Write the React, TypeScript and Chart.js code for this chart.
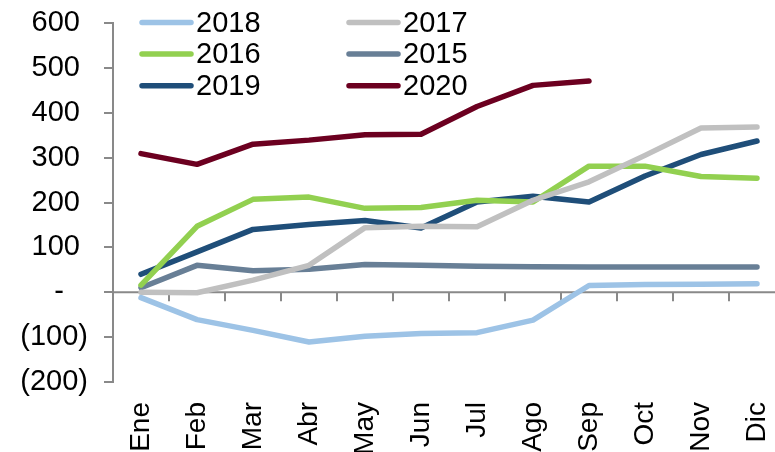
import React, { useEffect, useRef } from "react";
import { Chart, registerables } from "chart.js";

Chart.register(...registerables);

const categories = ["Ene", "Feb", "Mar", "Abr", "May", "Jun", "Jul", "Ago", "Sep", "Oct", "Nov", "Dic"];

const s2018 = [-12, -61, -85, -111, -98, -92, -90, -62, 15, 17, 18, 19];
const s2017 = [0, -1, 27, 60, 144, 147, 146, 205, 246, 305, 366, 368];
const s2016 = [16, 147, 207, 212, 187, 189, 205, 201, 281, 281, 258, 254];
const s2015 = [10, 60, 48, 51, 62, 60, 58, 57, 56, 56, 56, 56];
const s2019 = [40, 90, 140, 151, 160, 143, 201, 214, 201, 259, 307, 337];
const s2020 = [309, 285, 330, 339, 351, 352, 414, 461, 471];

const yTicks = [-200, -100, 0, 100, 200, 300, 400, 500, 600];

const FONT = "'Liberation Sans', Arial, sans-serif";
const AXIS = "#898989";

const fmt = (v: number) => {
  if (v > 0) return `${v}\u00A0`;
  if (v < 0) return `(${-v})`;
  return "-\u00A0\u00A0\u00A0";
};

const zeroAxisPlugin = {
  id: "zeroAxis",
  beforeDatasetsDraw(chart: any) {
    const { ctx, chartArea, scales } = chart;
    const x = scales.x;
    const y = scales.y;
    const y0 = y.getPixelForValue(0);
    ctx.save();
    ctx.strokeStyle = AXIS;
    ctx.lineWidth = 2;
    ctx.beginPath();
    ctx.moveTo(chartArea.left, y0);
    ctx.lineTo(chartArea.right, y0);
    const n = categories.length;
    for (let i = 0; i < n - 1; i++) {
      const bx = (x.getPixelForValue(i) + x.getPixelForValue(i + 1)) / 2;
      ctx.moveTo(bx, y0);
      ctx.lineTo(bx, y0 + 9);
    }
    ctx.moveTo(chartArea.right - 1, y0);
    ctx.lineTo(chartArea.right - 1, y0 + 9);
    ctx.stroke();
    ctx.restore();
  },
};

const legendPlugin = {
  id: "gridLegend",
  afterDatasetsDraw(chart: any) {
    const { ctx, chartArea } = chart;
    const colX = [27, 234];
    ctx.save();
    ctx.font = `29px ${FONT}`;
    ctx.textBaseline = "middle";
    ctx.textAlign = "left";
    chart.data.datasets.forEach((ds: any, i: number) => {
      const col = i % 2;
      const row = Math.floor(i / 2);
      const x0 = chartArea.left + colX[col];
      const yy = chartArea.top - 0.5 + row * 31.6;
      ctx.strokeStyle = ds.borderColor;
      ctx.lineWidth = 5.5;
      ctx.lineCap = "round";
      ctx.beginPath();
      ctx.moveTo(x0 + 2, yy);
      ctx.lineTo(x0 + 51, yy);
      ctx.stroke();
      ctx.fillStyle = "#000";
      ctx.fillText(ds.label, x0 + 56, yy + 1);
    });
    ctx.restore();
  },
};

export default function App() {
  const ref = useRef<HTMLCanvasElement | null>(null);

  useEffect(() => {
    if (!ref.current) return;
    const mk = (label: string, data: number[], color: string) => ({
      label,
      data,
      borderColor: color,
      backgroundColor: color,
      borderWidth: 5.5,
      pointRadius: 0,
      pointHoverRadius: 0,
      tension: 0,
      fill: false,
      borderCapStyle: "round" as const,
      borderJoinStyle: "round" as const,
    });
    const chart = new Chart(ref.current, {
      type: "line",
      data: {
        labels: categories,
        datasets: [
          mk("2018", s2018, "#9DC3E6"),
          mk("2017", s2017, "#C0C0C0"),
          mk("2016", s2016, "#92D050"),
          mk("2015", s2015, "#687F96"),
          mk("2019", s2019, "#1F4E79"),
          mk("2020", s2020, "#6C0020"),
        ],
      },
      options: {
        responsive: false,
        animation: false,
        layout: { padding: { top: 23, right: 5, left: 0, bottom: 0 } },
        plugins: { legend: { display: false }, tooltip: { enabled: false } },
        scales: {
          x: {
            type: "category",
            offset: true,
            grid: { display: false, drawTicks: false },
            border: { display: false },
            ticks: {
              autoSkip: false,
              minRotation: 90,
              maxRotation: 90,
              padding: 20,
              color: "#000",
              font: { family: FONT, size: 28 },
            },
            afterFit: (scale: any) => {
              scale.height = 70;
              scale.paddingLeft = 0;
              scale.paddingRight = 0;
            },
          },
          y: {
            min: -200,
            max: 600,
            afterBuildTicks: (scale: any) => {
              scale.ticks = yTicks.map((v) => ({ value: v }));
            },
            grid: {
              display: true,
              drawOnChartArea: false,
              drawTicks: true,
              tickLength: 9,
              color: AXIS,
              lineWidth: 2,
            },
            border: { display: true, color: AXIS, width: 2 },
            ticks: {
              padding: 16,
              color: "#000",
              font: { family: FONT, size: 29 },
              callback: (v: any) => fmt(Number(v)),
            },
            afterFit: (scale: any) => {
              scale.width = 113;
              scale.paddingTop = 0;
              scale.paddingBottom = 0;
            },
          },
        },
      },
      plugins: [zeroAxisPlugin, legendPlugin],
    });
    return () => chart.destroy();
  }, []);

  return (
    <div
      style={{
        position: "fixed",
        left: 0,
        top: 0,
        width: 775,
        height: 452,
        overflow: "hidden",
        background: "#fff",
      }}
    >
      <canvas ref={ref} width={790} height={452} style={{ display: "block" }} />
    </div>
  );
}
